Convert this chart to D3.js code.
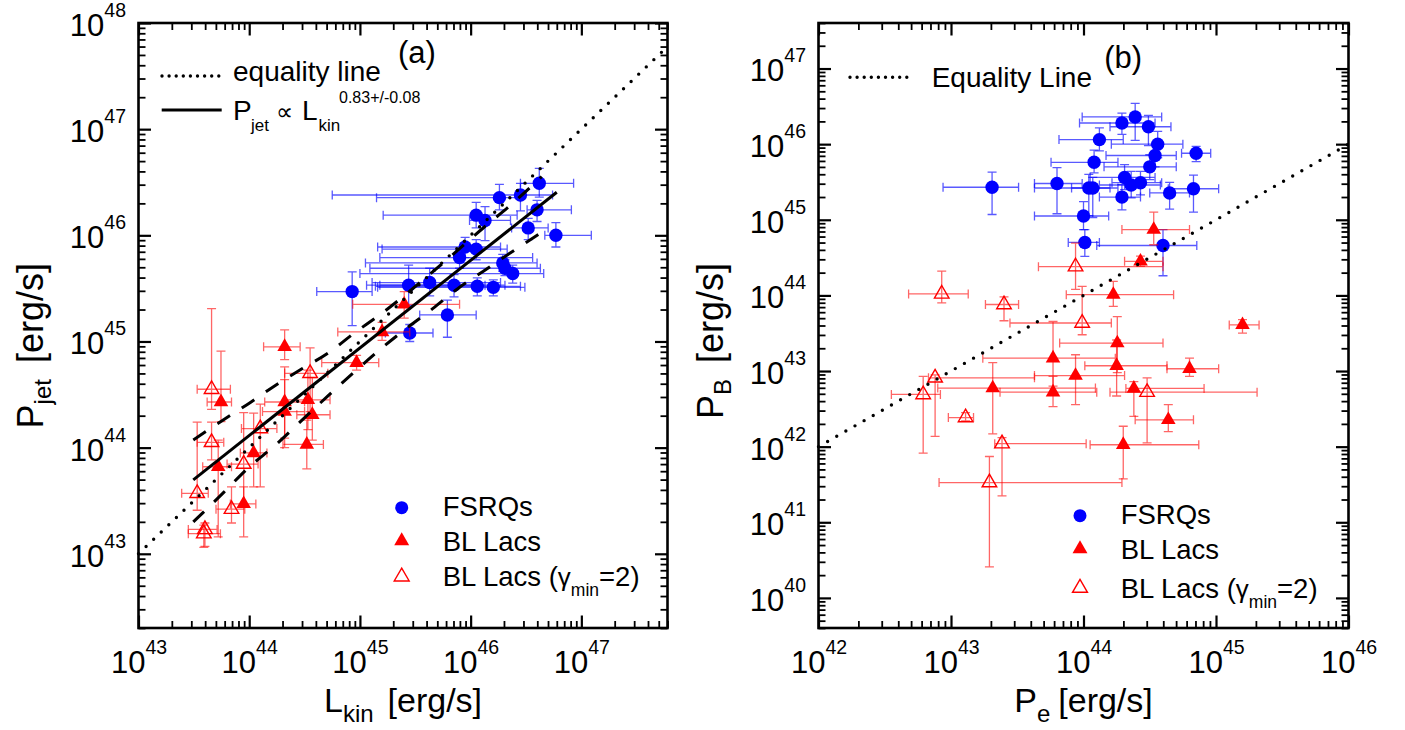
<!DOCTYPE html>
<html>
<head>
<meta charset="utf-8">
<script src="https://cdn.jsdelivr.net/npm/d3@7"></script>
<style>
  html, body { margin: 0; padding: 0; background: #fff; }
  svg text { font-family: "Liberation Sans", Arial, Helvetica, sans-serif; fill: #000; }
</style>
</head>
<body>
<svg id="chart" width="1405" height="730"></svg>
<script>
// All quantities are log10 of a power in erg/s.
// Each row: [x, y, xLow, xHigh, yLow, yHigh]

// ---- Panel (a): L_kin vs P_jet ----
const fsrqA = [
  [46.62, 46.49, 46.45, 46.93, 46.36, 46.63],
  [46.45, 46.38, 44.75, 46.74, 46.23, 46.49],
  [46.26, 46.355, 45.15, 46.45, 46.24, 46.48],
  [46.60, 46.24, 46.51, 46.91, 46.13, 46.33],
  [46.05, 46.19, 45.21, 46.42, 46.07, 46.31],
  [46.13, 46.14, 45.99, 46.36, 45.95, 46.27],
  [46.52, 46.07, 46.37, 46.70, 45.96, 46.16],
  [46.77, 46.00, 46.67, 47.09, 45.89, 46.12],
  [46.05, 45.87, 45.20, 46.33, 45.77, 45.96],
  [45.90, 45.79, 45.18, 46.56, 45.69, 45.86],
  [45.95, 45.89, 45.16, 46.27, 45.79, 45.98],
  [46.29, 45.74, 45.05, 46.60, 45.66, 45.82],
  [46.31, 45.69, 45.09, 46.63, 45.62, 45.77],
  [46.38, 45.64, 45.00, 46.66, 45.55, 45.72],
  [45.44, 45.53, 45.06, 46.13, 45.34, 45.72],
  [45.63, 45.555, 45.11, 46.27, 45.43, 45.69],
  [45.85, 45.53, 45.18, 46.31, 45.42, 45.63],
  [46.06, 45.52, 45.14, 46.45, 45.43, 45.60],
  [46.205, 45.51, 45.16, 46.49, 45.43, 45.58],
  [45.79, 45.25, 45.54, 46.05, 45.04, 45.39],
  [45.45, 45.08, 45.23, 45.66, 45.00, 45.16],
  [44.93, 45.47, 44.61, 45.11, 45.15, 45.655]
];
const blLacA = [
  [44.32, 44.95, 44.13, 44.46, 44.83, 45.11],
  [43.745, 44.43, 43.62, 43.84, 44.245, 44.91],
  [44.32, 44.43, 44.14, 44.50, 44.09, 44.76],
  [44.32, 44.34, 44.12, 44.50, 44.00, 44.64],
  [44.53, 44.45, 44.32, 44.73, 44.17, 44.73],
  [44.57, 44.31, 44.43, 44.73, 44.07, 44.66],
  [44.52, 44.03, 44.305, 44.67, 43.80, 44.26],
  [44.04, 43.95, 43.92, 44.16, 43.63, 44.325],
  [43.72, 43.82, 43.58, 43.84, 43.16, 44.07],
  [43.95, 43.47, 43.83, 44.06, 43.16, 43.63],
  [44.97, 44.80, 44.655, 45.17, 44.73, 44.87],
  [45.20, 45.09, 44.80, 45.45, 45.01, 45.18],
  [45.40, 45.35, 44.935, 45.90, 45.22, 45.47]
];
const blLacOpenA = [
  [43.66, 44.55, 43.53, 43.83, 44.36, 45.31],
  [44.55, 44.70, 44.32, 44.71, 44.34, 44.94],
  [44.10, 44.18, 43.93, 44.25, 43.63, 44.41],
  [43.66, 44.05, 43.53, 43.77, 43.885, 44.24],
  [43.53, 43.57, 43.39, 43.63, 43.41, 44.24],
  [43.95, 43.845, 43.80, 44.08, 43.46, 44.33],
  [43.84, 43.42, 43.70, 43.96, 43.29, 43.63],
  [43.60, 43.23, 43.45, 43.71, 43.07, 43.29],
  [43.59, 43.19, 43.45, 43.74, 43.06, 43.27]
];
// best fit P_jet ∝ L_kin^0.83 (end points) and its confidence band
const fitA = [[43.495, 43.697], [46.778, 46.406]];
const bandUpperA = [
  [43.495, 44.073], [43.772, 44.265], [44.014, 44.428], [44.239, 44.588],
  [44.480, 44.745], [44.712, 44.890], [44.947, 45.078], [45.188, 45.257],
  [45.654, 45.653], [45.880, 45.856], [46.121, 46.076], [46.356, 46.280],
  [46.642, 46.553]
];
const bandLowerA = [
  [43.495, 43.300], [43.772, 43.581], [43.998, 43.816], [44.239, 44.026],
  [44.489, 44.271], [44.721, 44.497], [44.947, 44.711], [45.188, 44.930],
  [45.414, 45.119], [45.654, 45.307], [45.880, 45.495], [46.115, 45.662],
  [46.350, 45.828], [46.645, 46.030]
];

// ---- Panel (b): P_e vs P_B ----
const fsrqB = [
  [44.39, 46.36, 43.99, 44.59, 46.05, 46.54],
  [44.29, 46.28, 43.97, 44.54, 46.13, 46.41],
  [44.49, 46.23, 44.20, 44.66, 45.98, 46.38],
  [44.12, 46.06, 43.815, 44.30, 45.91, 46.215],
  [44.56, 46.00, 44.21, 44.75, 45.82, 46.17],
  [44.85, 45.88, 44.74, 44.96, 45.77, 45.97],
  [44.54, 45.85, 44.17, 44.70, 45.70, 45.99],
  [44.08, 45.76, 43.755, 44.26, 45.62, 45.92],
  [44.50, 45.70, 44.155, 44.70, 45.53, 45.86],
  [44.31, 45.56, 44.05, 44.54, 45.40, 45.73],
  [43.80, 45.48, 43.63, 43.99, 45.08, 45.69],
  [44.04, 45.42, 43.91, 44.26, 45.055, 45.60],
  [44.07, 45.42, 43.63, 44.20, 45.03, 45.56],
  [44.36, 45.46, 44.12, 44.58, 45.29, 45.64],
  [44.43, 45.49, 44.215, 44.59, 45.33, 45.64],
  [44.29, 45.30, 44.12, 44.43, 45.13, 45.465],
  [44.65, 45.355, 44.50, 44.80, 45.14, 45.495],
  [44.83, 45.41, 44.64, 45.02, 45.10, 45.59],
  [44.00, 45.05, 43.63, 44.19, 44.87, 45.24],
  [44.01, 44.70, 43.885, 44.12, 44.515, 44.87],
  [44.60, 44.66, 44.10, 44.855, 44.26, 44.87],
  [43.31, 45.43, 42.94, 43.51, 45.07, 45.63]
];
const blLacB = [
  [44.53, 44.87, 44.29, 44.80, 44.67, 45.10],
  [44.43, 44.45, 44.31, 44.60, 44.385, 44.52],
  [44.225, 44.01, 43.87, 44.68, 43.855, 44.185],
  [45.20, 43.61, 45.10, 45.325, 43.50, 43.68],
  [44.255, 43.37, 43.82, 44.60, 42.98, 43.72],
  [43.77, 43.17, 43.24, 44.24, 42.80, 43.655],
  [44.25, 43.07, 44.01, 44.63, 42.67, 43.41],
  [44.80, 43.03, 44.63, 45.02, 42.93, 43.17],
  [43.94, 42.94, 43.63, 44.31, 42.555, 43.215],
  [44.38, 42.77, 44.32, 44.91, 42.40, 42.86],
  [43.77, 42.72, 43.37, 44.10, 42.53, 42.93],
  [44.64, 42.355, 44.39, 44.83, 42.20, 42.555],
  [44.30, 42.025, 44.05, 44.87, 41.575, 42.27],
  [43.315, 42.775, 42.90, 44.09, 42.17, 43.11]
];
const blLacOpenB = [
  [42.93, 44.02, 42.68, 43.13, 43.90, 44.32],
  [43.40, 43.88, 43.26, 43.51, 43.665, 43.98],
  [42.88, 42.91, 42.83, 43.63, 42.135, 42.95],
  [42.79, 42.69, 42.55, 42.92, 41.915, 42.93],
  [43.11, 42.385, 42.98, 43.17, 42.34, 42.45],
  [43.385, 42.04, 43.33, 44.02, 41.35, 42.12],
  [43.29, 41.525, 42.91, 44.29, 40.41, 41.87],
  [43.94, 44.38, 43.66, 44.60, 44.08, 44.69],
  [43.99, 43.635, 43.445, 44.21, 43.48, 44.12],
  [44.48, 42.72, 44.20, 45.31, 42.05, 42.91]
];

// tick label exponents
const xTicksA = [43, 44, 45, 46, 47];
const yTicksA = [43, 44, 45, 46, 47, 48];
const xTicksB = [42, 43, 44, 45, 46];
const yTicksB = [40, 41, 42, 43, 44, 45, 46, 47];

const BLUE = "#0000ff", RED = "#ff0000";
const svg = d3.select("#chart");
const P = v => Math.pow(10, v);

function minorTicks(domain) {
  const lo = Math.log10(domain[0]) - 1e-6, hi = Math.log10(domain[1]) + 1e-6;
  const out = [];
  for (let n = Math.floor(lo); n <= Math.ceil(hi); n++) {
    for (let k = 2; k <= 9; k++) {
      const lv = n + Math.log10(k);
      if (lv >= lo && lv <= hi) out.push(k * Math.pow(10, n));
    }
  }
  return out;
}

function powerLabel(node, d) {
  const t = d3.select(node);
  t.text(null).attr("font-size", 31);
  t.append("tspan").text("10");
  t.append("tspan").attr("dy", -19).attr("font-size", 19.5).text(Math.round(Math.log10(d)));
}

function drawPanel(cfg) {
  const x = d3.scaleLog().domain(cfg.xDomain).range([cfg.left, cfg.right]);
  const y = d3.scaleLog().domain(cfg.yDomain).range([cfg.bottom, cfg.top]);
  const g = svg.append("g");

  const xMinor = minorTicks(cfg.xDomain), yMinor = minorTicks(cfg.yDomain);
  const axes = [
    { fn: d3.axisBottom, s: x, t: `translate(0,${cfg.bottom})`, maj: cfg.xTicks.map(P), min: xMinor, lab: "b" },
    { fn: d3.axisTop, s: x, t: `translate(0,${cfg.top})`, maj: cfg.xTicks.map(P), min: xMinor },
    { fn: d3.axisLeft, s: y, t: `translate(${cfg.left},0)`, maj: cfg.yTicks.map(P), min: yMinor, lab: "l" },
    { fn: d3.axisRight, s: y, t: `translate(${cfg.right},0)`, maj: cfg.yTicks.map(P), min: yMinor }
  ];

  // data layer
  const data = g.append("g");
  function errorBars(rows, color, op) {
    const cap = 4.5;
    data.append("g")
      .attr("stroke", color).attr("stroke-opacity", op).attr("stroke-width", 1.3).attr("fill", "none")
      .selectAll("path").data(rows).join("path")
      .attr("d", d => {
        const cx = x(P(d[0])), cy = y(P(d[1]));
        const x0 = x(P(d[2])), x1 = x(P(d[3])), y0 = y(P(d[4])), y1 = y(P(d[5]));
        return `M${x0},${cy}H${x1}M${x0},${cy - cap}V${cy + cap}M${x1},${cy - cap}V${cy + cap}` +
               `M${cx},${y0}V${y1}M${cx - cap},${y0}H${cx + cap}M${cx - cap},${y1}H${cx + cap}`;
      });
  }
  const tri = d3.symbol().type(d3.symbolTriangle).size(92)();
  function circles(rows) {
    data.append("g").selectAll("circle").data(rows).join("circle")
      .attr("cx", d => x(P(d[0]))).attr("cy", d => y(P(d[1]))).attr("r", 6.7).attr("fill", BLUE);
  }
  function triangles(rows, open) {
    data.append("g").selectAll("path").data(rows).join("path")
      .attr("d", tri)
      .attr("transform", d => `translate(${x(P(d[0]))},${y(P(d[1]))})`)
      .attr("fill", open ? "none" : RED)
      .attr("stroke", open ? RED : "none").attr("stroke-width", 1.4);
  }

  errorBars(cfg.fsrq, BLUE, 0.65);
  circles(cfg.fsrq);
  errorBars(cfg.bl, RED, 0.6);
  triangles(cfg.bl, false);
  errorBars(cfg.blOpen, RED, 0.6);
  triangles(cfg.blOpen, true);

  // lines
  const line = d3.line().x(d => x(P(d[0]))).y(d => y(P(d[1])));
  g.append("path").datum(cfg.equality)
    .attr("d", line).attr("fill", "none").attr("stroke", "#000")
    .attr("stroke-width", 3.4).attr("stroke-linecap", "round").attr("stroke-dasharray", "0,10.5");
  if (cfg.fit) {
    g.append("path").datum(cfg.fit).attr("d", line)
      .attr("fill", "none").attr("stroke", "#000").attr("stroke-width", 3);
    const curved = d3.line().curve(d3.curveMonotoneX).x(d => x(P(d[0]))).y(d => y(P(d[1])));
    [cfg.bandUp, cfg.bandLow].forEach(b => {
      g.append("path").datum(b).attr("d", curved)
        .attr("fill", "none").attr("stroke", "#000").attr("stroke-width", 3)
        .attr("stroke-dasharray", "15,14");
    });
  }

  // axes: minor then major ticks on all four sides, pointing inward
  axes.forEach(a => {
    const gMin = g.append("g").attr("transform", a.t)
      .call(a.fn(a.s).tickValues(a.min).tickSize(-7).tickSizeOuter(0).tickFormat(() => ""));
    gMin.select(".domain").remove();
    gMin.selectAll(".tick text").remove();
    gMin.selectAll(".tick line").attr("stroke", "#000").attr("stroke-width", 1.8);

    const gMaj = g.append("g").attr("transform", a.t)
      .call(a.fn(a.s).tickValues(a.maj).tickSize(-12.5).tickSizeOuter(0).tickFormat(d => d));
    gMaj.attr("font-family", null).attr("font-size", null);
    gMaj.select(".domain").remove();
    gMaj.selectAll(".tick line").attr("stroke", "#000").attr("stroke-width", 2.2);
    if (!a.lab) {
      gMaj.selectAll(".tick text").remove();
    } else if (a.lab === "b") {
      gMaj.selectAll(".tick text").attr("y", 45).attr("dy", null).each(function (d) { powerLabel(this, d); });
    } else {
      gMaj.selectAll(".tick text").attr("x", -12.5).attr("dy", "0.4em").each(function (d) { powerLabel(this, d); });
    }
  });

  // frame
  g.append("rect")
    .attr("x", cfg.left).attr("y", cfg.top)
    .attr("width", cfg.right - cfg.left).attr("height", cfg.bottom - cfg.top)
    .attr("fill", "none").attr("stroke", "#000").attr("stroke-width", 2.6);

  return { g, x, y };
}

// ---------- panel (a) ----------
drawPanel({
  left: 138.5, right: 667.5, top: 23, bottom: 628,
  xDomain: [1e43, 6e47], yDomain: [2e42, 1e48],
  xTicks: xTicksA, yTicks: yTicksA,
  fsrq: fsrqA, bl: blLacA, blOpen: blLacOpenA,
  equality: [[43, 43], [Math.log10(6e47), Math.log10(6e47)]],
  fit: fitA, bandUp: bandUpperA, bandLow: bandLowerA
});

// ---------- panel (b) ----------
drawPanel({
  left: 818.5, right: 1348.5, top: 23, bottom: 628,
  xDomain: [1e42, 1e46], yDomain: [4e39, 4e47],
  xTicks: xTicksB, yTicks: yTicksB,
  fsrq: fsrqB, bl: blLacB, blOpen: blLacOpenB,
  equality: [[42, 42], [46, 46]]
});

// ---------- text and legends ----------
function txt(g, xp, yp, size, s, anchor) {
  return g.append("text").attr("x", xp).attr("y", yp).attr("font-size", size)
    .attr("text-anchor", anchor || "start").text(s);
}
const triShape = d3.symbol().type(d3.symbolTriangle).size(97)();

// panel (a) upper legend
const la = svg.append("g");
la.append("line").attr("x1", 162).attr("x2", 219).attr("y1", 76).attr("y2", 76)
  .attr("stroke", "#000").attr("stroke-width", 3.4).attr("stroke-linecap", "round").attr("stroke-dasharray", "0,7.1");
txt(la, 233, 81, 28, "equality line");
la.append("line").attr("x1", 161.7).attr("x2", 221.7).attr("y1", 110).attr("y2", 110)
  .attr("stroke", "#000").attr("stroke-width", 3);
txt(la, 233, 120, 28, "P");
txt(la, 251, 131, 17, "jet");
txt(la, 276, 120, 24, "\u221D");
txt(la, 302, 120, 28, "L");
txt(la, 318.5, 131, 17, "kin");
txt(la, 339, 103, 16, "0.83+/-0.08");
txt(la, 398, 63, 31, "(a)");

// lower legends
function seriesLegend(g, mx, ys, tx) {
  g.append("circle").attr("cx", mx).attr("cy", ys[0]).attr("r", 6.5).attr("fill", BLUE);
  g.append("path").attr("d", triShape).attr("transform", `translate(${mx},${ys[1]})`).attr("fill", RED);
  g.append("path").attr("d", triShape).attr("transform", `translate(${mx},${ys[2]})`)
    .attr("fill", "none").attr("stroke", RED).attr("stroke-width", 1.4);
  txt(g, tx, ys[0] + 8, 27.5, "FSRQs");
  txt(g, tx, ys[1] + 9.5, 27.5, "BL Lacs");
  const t = txt(g, tx, ys[2] + 9.5, 27.5, "BL Lacs (");
  t.append("tspan").attr("font-size", 26).text("\u03B3");
  t.append("tspan").attr("font-size", 17.5).attr("dy", 10).text("min");
  t.append("tspan").attr("font-size", 27.5).attr("dy", -10).text("=2)");
}
seriesLegend(svg.append("g"), 401.7, [507.7, 541, 576.7], 442.7);
seriesLegend(svg.append("g"), 1080, [515.7, 549, 588], 1120.7);

// panel (b) upper legend
const lb = svg.append("g");
lb.append("line").attr("x1", 850).attr("x2", 907).attr("y1", 77.3).attr("y2", 77.3)
  .attr("stroke", "#000").attr("stroke-width", 3.4).attr("stroke-linecap", "round").attr("stroke-dasharray", "0,7.1");
txt(lb, 931.7, 87.3, 28, "Equality Line");
txt(lb, 1104.3, 68, 31, "(b)");

// axis titles
function xTitle(cx, main, sub, gap) {
  const t = svg.append("text").attr("x", cx).attr("y", 712).attr("font-size", 34).attr("text-anchor", "middle");
  t.append("tspan").text(main);
  t.append("tspan").attr("font-size", 24).attr("dy", 10).text(sub);
  t.append("tspan").attr("font-size", 34).attr("dy", -10).attr("dx", gap).text("[erg/s]");
}
xTitle(403, "L", "kin", 14);
xTitle(1083.5, "P", "e", 8);

function yTitle(bx, main, sub, gap) {
  const t = svg.append("text").attr("transform", `translate(${bx},263) rotate(-90)`)
    .attr("font-size", 36).attr("text-anchor", "end");
  t.append("tspan").text(main);
  t.append("tspan").attr("font-size", 24).attr("dy", 8).text(sub);
  t.append("tspan").attr("font-size", 36).attr("dy", -8).attr("dx", gap).text("[erg/s]");
}
yTitle(43, "P", "jet", 16);
yTitle(723, "P", "B", 16);
</script>
</body>
</html>
